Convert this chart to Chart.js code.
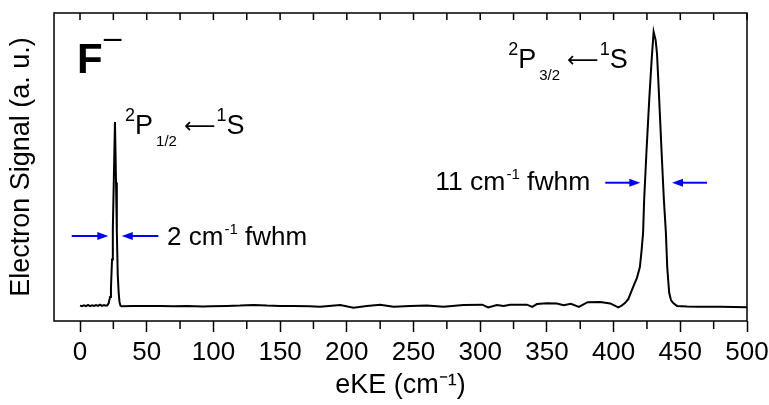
<!DOCTYPE html>
<html>
<head>
<meta charset="utf-8">
<script src="https://cdn.jsdelivr.net/npm/chart.js@4.4.1/dist/chart.umd.min.js"></script>
<style>
  html, body { margin: 0; padding: 0; background: #fff; }
  #wrap { width: 769px; height: 405px; }
</style>
</head>
<body>
<div id="wrap"><canvas id="spectrum" width="769" height="405"></canvas></div>
<script>
// photoelectron spectrum of F- (arbitrary signal units)
const eKE = [
  0, 1.5, 3, 4.5, 6, 7.5, 9, 10.5, 12, 13.5, 15, 16.5, 18, 19.5, 20.5,
  21.5, 22.5, 23.2, 24, 24.6, 25.3, 26.2, 27, 27.6, 28.3, 29, 29.6, 30.3, 31,
  40, 50, 60, 70, 80, 92, 98, 110, 120, 130, 140, 150, 160, 172,
  180, 195, 205, 215, 225, 235, 247.5, 260, 272.5, 287.5, 301.5, 306, 312.5,
  317.5, 322.5, 335, 339, 342.5, 350, 357.5, 362.5, 368, 374, 380.5, 390,
  397.5, 403.5, 406, 408.5, 411, 414.6, 417.5, 419.7, 421, 422.1, 422.9,
  424.7, 426.7, 428.5, 430, 431.5, 432.5, 433.5, 434.2, 435.9, 437.7, 439.2,
  440.2, 441.2, 441.7, 443, 444.7, 447.5, 455, 462.5, 480, 500
];
const signal = [
  0.050, 0.048, 0.051, 0.048, 0.052, 0.048, 0.051, 0.049, 0.052, 0.049, 0.053, 0.049, 0.052, 0.050, 0.051,
  0.058, 0.078, 0.107, 0.200, 0.300, 0.450, 0.646, 0.450, 0.290, 0.149, 0.091, 0.062, 0.050, 0.048,
  0.049, 0.049, 0.049, 0.048, 0.049, 0.047, 0.048, 0.049, 0.050, 0.052, 0.050, 0.049, 0.049, 0.048,
  0.046, 0.052, 0.043, 0.049, 0.053, 0.046, 0.049, 0.050, 0.046, 0.052, 0.053, 0.044, 0.052,
  0.049, 0.053, 0.053, 0.046, 0.055, 0.058, 0.057, 0.051, 0.056, 0.046, 0.061, 0.062,
  0.057, 0.044, 0.050, 0.058, 0.071, 0.110, 0.140, 0.175, 0.230, 0.286, 0.393,
  0.555, 0.718, 0.847, 0.939, 0.912, 0.870, 0.783, 0.718, 0.555, 0.393, 0.286,
  0.175, 0.117, 0.091, 0.068, 0.058, 0.049, 0.047, 0.046, 0.046, 0.045
];
const majorTicks = [0, 50, 100, 150, 200, 250, 300, 350, 400, 450, 500];
const minorTicks = [25, 75, 125, 175, 225, 275, 325, 375, 425, 475];

// fwhm markers: [tail x, head x, y] in data units
const fwhmArrows = [
  [-6.2, 21.2, 0.276],
  [58.7, 31.3, 0.276],
  [393.75, 420, 0.449],
  [470, 443.8, 0.449]
];

const FONT = "'Liberation Sans', Arial, sans-serif";
const ARROW_FONT = "'DejaVu Sans', sans-serif";

// rich text labels, anchored in data units
const labels = [
  { x: -2.25, y: 0.805, parts: [
    { t: "F", size: 42, bold: true },
    { t: "\u2013", size: 32, dy: -25, gap: 1 }
  ] },
  { x: 33.75, y: 0.607, parts: [
    { t: "2", size: 18, dy: -13 },
    { t: "P", size: 27, gap: 0 },
    { t: "1/2", size: 15, dy: 12, gap: 3 },
    { t: "\u27F5", size: 22, family: ARROW_FONT, dy: -1, gap: 7 },
    { t: "1", size: 18, dy: -13, gap: 1 },
    { t: "S", size: 27 }
  ] },
  { x: 321, y: 0.82, parts: [
    { t: "2", size: 18, dy: -13 },
    { t: "P", size: 27, gap: 0 },
    { t: "3/2", size: 15, dy: 12, gap: 3 },
    { t: "\u27F5", size: 22, family: ARROW_FONT, dy: -1, gap: 7 },
    { t: "1", size: 18, dy: -13, gap: 1 },
    { t: "S", size: 27 }
  ] },
  { x: 65.25, y: 0.247, parts: [
    { t: "2 cm", size: 26 },
    { t: "-1", size: 15, dy: -11, gap: 1 },
    { t: " fwhm", size: 26 }
  ] },
  { x: 266.25, y: 0.425, parts: [
    { t: "11 cm", size: 26.5 },
    { t: "-1", size: 15, dy: -11, gap: 1 },
    { t: " fwhm", size: 26.5 }
  ] }
];

function drawRich(ctx, x, y, parts) {
  let cx = x;
  for (const p of parts) {
    cx += p.gap || 0;
    ctx.font = (p.bold ? "bold " : "") + p.size + "px " + (p.family || FONT);
    ctx.fillText(p.t, cx, y + (p.dy || 0));
    cx += ctx.measureText(p.t).width;
  }
}

const framePlugin = {
  id: "frame",
  afterDraw(chart) {
    const { ctx, chartArea: a, scales } = chart;
    const x = scales.x, y = scales.y;
    ctx.save();
    ctx.strokeStyle = "#000";
    ctx.lineWidth = 1.5;
    ctx.strokeRect(a.left, a.top, a.right - a.left, a.bottom - a.top);
    ctx.beginPath();
    // mirrored ticks pointing inward along the top
    for (const v of majorTicks.concat(minorTicks)) {
      const px = x.getPixelForValue(v);
      ctx.moveTo(px, a.top);
      ctx.lineTo(px, a.top + 7);
    }
    // short minor ticks below the axis
    for (const v of minorTicks) {
      const px = x.getPixelForValue(v);
      ctx.moveTo(px, a.bottom);
      ctx.lineTo(px, a.bottom + 8);
    }
    ctx.stroke();

    // blue fwhm arrows
    ctx.strokeStyle = "#0000ff";
    ctx.fillStyle = "#0000ff";
    ctx.lineWidth = 2;
    for (const [x0, x1, yv] of fwhmArrows) {
      const p0 = x.getPixelForValue(x0), p1 = x.getPixelForValue(x1);
      const py = y.getPixelForValue(yv);
      const dir = Math.sign(p1 - p0);
      ctx.beginPath();
      ctx.moveTo(p0, py);
      ctx.lineTo(p1 - dir * 8, py);
      ctx.stroke();
      ctx.beginPath();
      ctx.moveTo(p1, py);
      ctx.lineTo(p1 - dir * 11, py - 4);
      ctx.lineTo(p1 - dir * 11, py + 4);
      ctx.closePath();
      ctx.fill();
    }

    ctx.fillStyle = "#000";
    ctx.textBaseline = "alphabetic";
    ctx.textAlign = "left";
    for (const l of labels) {
      drawRich(ctx, x.getPixelForValue(l.x), y.getPixelForValue(l.y), l.parts);
    }
    ctx.restore();
  }
};

Chart.defaults.font.family = FONT;
Chart.defaults.color = "#000";

new Chart(document.getElementById("spectrum"), {
  type: "line",
  data: {
    datasets: [{
      data: eKE.map((v, i) => ({ x: v, y: signal[i] })),
      borderColor: "#000",
      borderWidth: 2,
      pointRadius: 0,
      tension: 0,
      fill: false
    }]
  },
  options: {
    responsive: false,
    animation: false,
    devicePixelRatio: 1,
    layout: { padding: { top: 13, right: 22, left: 0, bottom: 0 } },
    plugins: { legend: { display: false }, tooltip: { enabled: false } },
    scales: {
      x: {
        type: "linear",
        min: -19.5,
        max: 500,
        afterBuildTicks(scale) {
          scale.ticks = majorTicks.concat(minorTicks).sort((a, b) => a - b).map(v => ({ value: v }));
        },
        afterFit(scale) {
          scale.height = 84;
          scale.paddingLeft = 0;
          scale.paddingRight = 0;
        },
        ticks: {
          autoSkip: false,
          maxRotation: 0,
          padding: 5,
          font: { family: FONT, size: 26 },
          callback: v => (majorTicks.includes(v) ? String(v) : "")
        },
        grid: {
          display: true,
          drawOnChartArea: false,
          drawTicks: true,
          tickLength: 11,
          tickWidth: 1.5,
          color: "rgba(0,0,0,0)",
          tickColor: c => (majorTicks.includes(c.tick && c.tick.value) ? "#000" : "rgba(0,0,0,0)")
        },
        border: { display: false },
        title: {
          display: true,
          text: "eKE (cm\u207B\u00B9)",
          font: { family: FONT, size: 27 },
          padding: { top: 0, bottom: 3 }
        }
      },
      y: {
        min: 0,
        max: 1,
        ticks: { display: false },
        grid: { display: false, drawTicks: false },
        border: { display: false },
        afterFit(scale) { scale.width = 54; },
        title: {
          display: true,
          text: "Electron Signal (a. u.)",
          font: { family: FONT, size: 27 },
          padding: { top: 5.5, bottom: 0 }
        }
      }
    }
  },
  plugins: [framePlugin]
});
</script>
</body>
</html>
